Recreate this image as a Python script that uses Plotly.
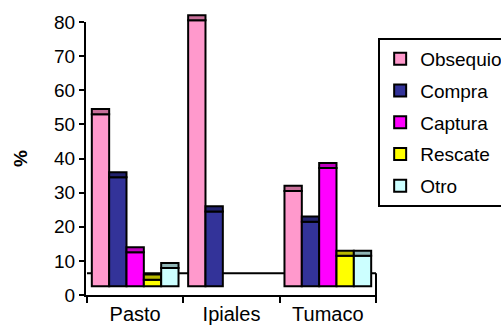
import plotly.graph_objects as go

# ---- data (value = top of each column on the % axis) ----
categories = ["Pasto", "Ipiales", "Tumaco"]
series_names = ["Obsequio", "Compra", "Captura", "Rescate", "Otro"]
obsequio = [54.5, 82.0, 32.0]
compra = [36.0, 26.0, 23.0]
captura = [14.0, None, 38.7]
rescate = [6.0, None, 13.0]
otro = [9.4, None, 13.0]
y_tickvals = [0, 10, 20, 30, 40, 50, 60, 70, 80]

series_values = [obsequio, compra, captura, rescate, otro]

# ---- styles ----
face_colors = ["#FF99CC", "#333399", "#FF00FF", "#FFFF00", "#CCFFFF"]
cap_colors = ["#C8709A", "#22226E", "#C000C0", "#B8B800", "#8FB5B5"]
FLOOR = 2.6        # 3-D floor on which columns stand
FLOOR_BACK = 6.4   # back edge of the 3-D floor
CAP = 1.5          # depth cap on top of each column
FONT = "Arial, Liberation Sans, sans-serif"

# plot geometry: visible % axis runs 0..80; bars live on a second y axis with
# identical scale but a little more head-room (Ipiales exceeds 80)
W, H = 501, 326
M_L, M_R, M_T, M_B = 86, 124, 10, 31
Y1_MAX = 80
AXIS_PX = 273
PX_PER_UNIT = AXIS_PX / Y1_MAX
plot_h = H - M_T - M_B
y1_top = AXIS_PX / plot_h
y2_max = plot_h / PX_PER_UNIT

fig = go.Figure()
for name, vals, fc, cc in zip(series_names, series_values, face_colors, cap_colors):
    face_len = [None if v is None else v - CAP - FLOOR for v in vals]
    cap_base = [None if v is None else v - CAP for v in vals]
    cap_len = [None if v is None else CAP for v in vals]
    fig.add_trace(go.Bar(
        x=categories, y=face_len, base=FLOOR, name=name, yaxis="y2",
        offsetgroup=name, legendgroup=name,
        marker=dict(color=fc, line=dict(color="black", width=2)),
        hoverinfo="skip",
    ))
    fig.add_trace(go.Bar(
        x=categories, y=cap_len, base=cap_base, name=name, yaxis="y2",
        offsetgroup=name, legendgroup=name, showlegend=False,
        marker=dict(color=cc, line=dict(color="black", width=2)),
        hoverinfo="skip",
    ))

# 3-D floor outline
fig.add_shape(type="line", xref="x", yref="y", x0=-0.5, x1=2.5, y0=FLOOR_BACK, y1=FLOOR_BACK,
              line=dict(color="black", width=2), layer="below")
fig.add_shape(type="line", xref="x", yref="y", x0=2.5, x1=2.5, y0=FLOOR_BACK, y1=0,
              line=dict(color="black", width=2), layer="below")

fig.update_layout(
    width=W, height=H,
    margin=dict(l=M_L, r=M_R, t=M_T, b=M_B, autoexpand=False),
    paper_bgcolor="white", plot_bgcolor="rgba(0,0,0,0)",
    barmode="group", bargap=0.1, bargroupgap=0,
    font=dict(family=FONT, color="black", size=19),
    legend=dict(
        x=1.004, y=(H - M_B - 38) / plot_h, xanchor="left", yanchor="top",
        bordercolor="black", borderwidth=2, bgcolor="white",
        font=dict(family=FONT, size=19, color="black"),
        tracegroupgap=4, traceorder="grouped",
    ),
    showlegend=True,
    xaxis=dict(
        type="category", automargin=False, anchor="y",
        showline=True, linecolor="black", linewidth=2,
        ticks="outside", tickson="boundaries", ticklen=6, tickwidth=2, tickcolor="black",
        showgrid=False, zeroline=False,
        tickfont=dict(family=FONT, size=20, color="black"),
    ),
    yaxis=dict(
        domain=[0, y1_top], range=[0, Y1_MAX], autorange=False, tickvals=y_tickvals,
        automargin=False, anchor="x",
        showline=True, linecolor="black", linewidth=2,
        ticks="outside", ticklen=5, tickwidth=2, tickcolor="black",
        showgrid=False, zeroline=False,
        tickfont=dict(family=FONT, size=19, color="black"),
        title=dict(text="<b>%</b>", font=dict(family=FONT, size=19, color="black"), standoff=21),
    ),
    yaxis2=dict(
        domain=[0, 1], range=[0, y2_max], autorange=False, anchor="x",
        showticklabels=False, showline=False, ticks="", showgrid=False, zeroline=False,
        automargin=False,
    ),
)

fig.write_html(
    "out.html",
    config={"displayModeBar": False},
    post_script="document.body.style.margin='0';",
)
